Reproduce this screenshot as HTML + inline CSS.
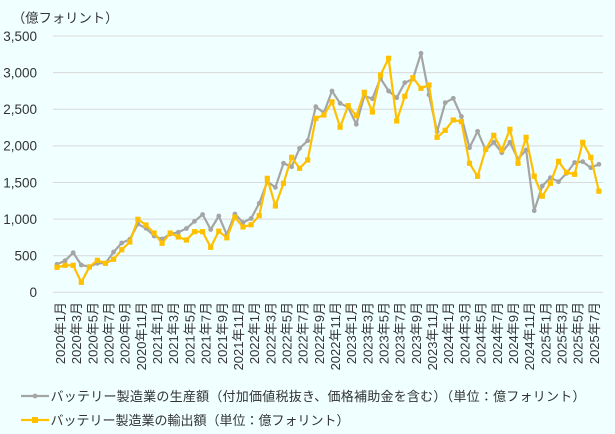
<!DOCTYPE html>
<html>
<head>
<meta charset="utf-8">
<style>
html,body{margin:0;padding:0;background:#F0FFFF;}
svg{display:block;}
text{font-family:"Liberation Sans","Noto Sans CJK JP",sans-serif;fill:#333;}
</style>
</head>
<body>
<svg width="615" height="434" viewBox="0 0 615 434" xmlns="http://www.w3.org/2000/svg">
<defs>
<marker id="mc" markerUnits="userSpaceOnUse" markerWidth="6" markerHeight="6" refX="3" refY="3" viewBox="0 0 6 6">
<circle cx="3" cy="3" r="2.4" fill="#A5A5A5"/>
</marker>
<marker id="ms" markerUnits="userSpaceOnUse" markerWidth="6" markerHeight="6" refX="3" refY="3" viewBox="0 0 6 6">
<rect x="0.4" y="0.4" width="5.2" height="5.2" fill="#FFC000"/>
</marker>
</defs>
<rect x="0" y="0" width="615" height="434" fill="#F0FFFF"/>

<text x="12" y="22.5" font-size="13.3">（億フォリント）</text>

<g stroke="#D9D9D9" stroke-width="1">
<line x1="53" y1="36" x2="603" y2="36"/>
<line x1="53" y1="72.6" x2="603" y2="72.6"/>
<line x1="53" y1="109.2" x2="603" y2="109.2"/>
<line x1="53" y1="145.9" x2="603" y2="145.9"/>
<line x1="53" y1="182.5" x2="603" y2="182.5"/>
<line x1="53" y1="219.1" x2="603" y2="219.1"/>
<line x1="53" y1="255.7" x2="603" y2="255.7"/>
<line x1="53" y1="292.3" x2="603" y2="292.3"/>
</g>

<g font-size="13.5" text-anchor="end">
<text x="37" y="40.8">3,500</text>
<text x="37" y="77.4">3,000</text>
<text x="37" y="114">2,500</text>
<text x="37" y="150.7">2,000</text>
<text x="37" y="187.3">1,500</text>
<text x="37" y="223.9">1,000</text>
<text x="37" y="260.5">500</text>
<text x="37" y="297.1">0</text>
</g>

<polyline fill="none" stroke="#A5A5A5" stroke-width="2.2" stroke-linejoin="round" marker-start="url(#mc)" marker-mid="url(#mc)" marker-end="url(#mc)" points="57.0,264.3 65.1,260.7 73.2,252.7 81.3,265.0 89.4,266.7 97.4,263.3 105.5,263.3 113.6,252.0 121.7,243.0 129.8,239.3 137.9,224.0 146.0,228.3 154.1,236.0 162.1,239.0 170.2,234.0 178.3,232.3 186.4,228.5 194.5,221.3 202.6,214.5 210.7,229.5 218.8,216.0 226.8,234.7 234.9,214.0 243.0,222.5 251.1,218.5 259.2,203.3 267.3,181.7 275.4,187.3 283.5,163.3 291.6,166.7 299.6,148.3 307.7,140.7 315.8,106.7 323.9,112.7 332.0,91.0 340.1,103.3 348.2,107.3 356.3,124.3 364.3,96.0 372.4,98.7 380.5,78.3 388.6,91.0 396.7,97.7 404.8,82.7 412.9,79.0 421.0,53.3 429.0,94.7 437.1,131.7 445.2,102.7 453.3,98.3 461.4,116.5 469.5,147.7 477.6,131.3 485.7,150.0 493.8,142.3 501.8,152.7 509.9,142.3 518.0,159.0 526.1,150.0 534.2,210.7 542.3,186.0 550.4,177.7 558.5,181.7 566.5,173.3 574.6,162.5 582.7,161.7 590.8,167.7 598.9,164.3"/>

<polyline fill="none" stroke="#FFC000" stroke-width="2.2" stroke-linejoin="round" marker-start="url(#ms)" marker-mid="url(#ms)" marker-end="url(#ms)" points="57.0,267.3 65.1,265.3 73.2,265.3 81.3,282.3 89.4,267.0 97.4,260.3 105.5,263.3 113.6,259.3 121.7,249.7 129.8,242.0 137.9,219.3 146.0,225.0 154.1,233.0 162.1,243.3 170.2,233.0 178.3,237.0 186.4,240.0 194.5,231.7 202.6,231.7 210.7,247.3 218.8,231.2 226.8,237.8 234.9,217.2 243.0,227.0 251.1,224.7 259.2,215.7 267.3,178.3 275.4,206.0 283.5,183.3 291.6,157.3 299.6,168.3 307.7,160.0 315.8,118.3 323.9,115.0 332.0,101.8 340.1,127.2 348.2,105.7 356.3,115.7 364.3,92.3 372.4,112.0 380.5,75.0 388.6,58.3 396.7,121.0 404.8,96.3 412.9,77.7 421.0,88.3 429.0,85.0 437.1,137.3 445.2,130.3 453.3,120.0 461.4,121.7 469.5,163.3 477.6,176.3 485.7,149.3 493.8,135.3 501.8,150.0 509.9,129.3 518.0,163.3 526.1,137.3 534.2,176.2 542.3,196.2 550.4,183.3 558.5,161.3 566.5,172.3 574.6,174.3 582.7,142.3 590.8,157.3 598.9,191.2"/>

<g font-size="13" text-anchor="end">
<text transform="translate(65.0,302) rotate(-90)">2020年1月</text>
<text transform="translate(81.2,302) rotate(-90)">2020年3月</text>
<text transform="translate(97.4,302) rotate(-90)">2020年5月</text>
<text transform="translate(113.5,302) rotate(-90)">2020年7月</text>
<text transform="translate(129.7,302) rotate(-90)">2020年9月</text>
<text transform="translate(145.9,302) rotate(-90)">2020年11月</text>
<text transform="translate(162.1,302) rotate(-90)">2021年1月</text>
<text transform="translate(178.2,302) rotate(-90)">2021年3月</text>
<text transform="translate(194.4,302) rotate(-90)">2021年5月</text>
<text transform="translate(210.6,302) rotate(-90)">2021年7月</text>
<text transform="translate(226.8,302) rotate(-90)">2021年9月</text>
<text transform="translate(242.9,302) rotate(-90)">2021年11月</text>
<text transform="translate(259.1,302) rotate(-90)">2022年1月</text>
<text transform="translate(275.3,302) rotate(-90)">2022年3月</text>
<text transform="translate(291.5,302) rotate(-90)">2022年5月</text>
<text transform="translate(307.6,302) rotate(-90)">2022年7月</text>
<text transform="translate(323.8,302) rotate(-90)">2022年9月</text>
<text transform="translate(340.0,302) rotate(-90)">2022年11月</text>
<text transform="translate(356.2,302) rotate(-90)">2023年1月</text>
<text transform="translate(372.3,302) rotate(-90)">2023年3月</text>
<text transform="translate(388.5,302) rotate(-90)">2023年5月</text>
<text transform="translate(404.7,302) rotate(-90)">2023年7月</text>
<text transform="translate(420.9,302) rotate(-90)">2023年9月</text>
<text transform="translate(437.0,302) rotate(-90)">2023年11月</text>
<text transform="translate(453.2,302) rotate(-90)">2024年1月</text>
<text transform="translate(469.4,302) rotate(-90)">2024年3月</text>
<text transform="translate(485.6,302) rotate(-90)">2024年5月</text>
<text transform="translate(501.8,302) rotate(-90)">2024年7月</text>
<text transform="translate(517.9,302) rotate(-90)">2024年9月</text>
<text transform="translate(534.1,302) rotate(-90)">2024年11月</text>
<text transform="translate(550.3,302) rotate(-90)">2025年1月</text>
<text transform="translate(566.5,302) rotate(-90)">2025年3月</text>
<text transform="translate(582.6,302) rotate(-90)">2025年5月</text>
<text transform="translate(598.8,302) rotate(-90)">2025年7月</text>
</g>

<line x1="21" y1="396" x2="49" y2="396" stroke="#A5A5A5" stroke-width="2.2"/>
<circle cx="35" cy="396" r="2.4" fill="#A5A5A5"/>
<text x="50.5" y="401" font-size="13" textLength="535" lengthAdjust="spacing">バッテリー製造業の生産額（付加価値税抜き、価格補助金を含む）（単位：億フォリント）</text>

<line x1="21" y1="420" x2="49" y2="420" stroke="#FFC000" stroke-width="2.2"/>
<rect x="32" y="417" width="6" height="6" fill="#FFC000"/>
<text x="50.5" y="425" font-size="13">バッテリー製造業の輸出額（単位：億フォリント）</text>
</svg>
</body>
</html>
